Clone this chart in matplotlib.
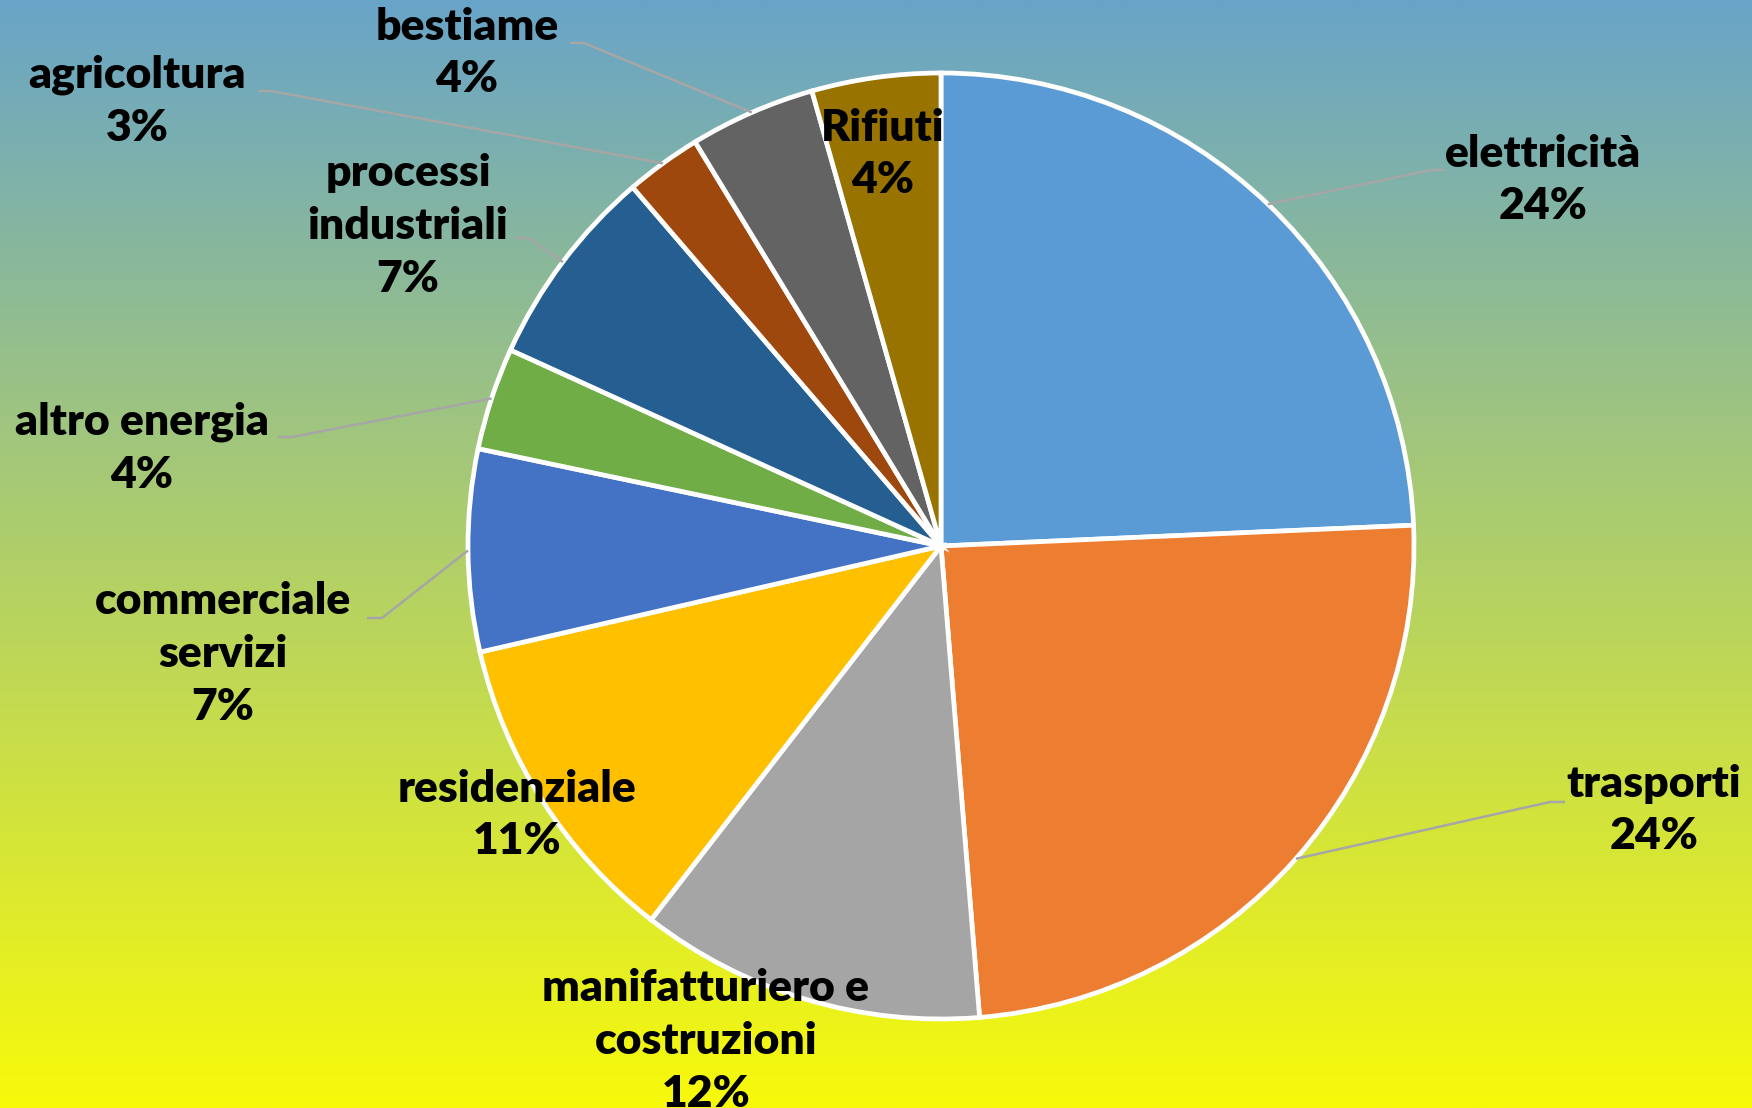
import numpy as np
import matplotlib.pyplot as plt

# emission shares by sector, clockwise from 12 o'clock
sectors = ['elettricità', 'trasporti', 'manifatturiero e\ncostruzioni', 'residenziale',
           'commerciale\nservizi', 'altro energia', 'processi\nindustriali',
           'agricoltura', 'bestiame', 'Rifiuti']
shares = [24.3, 24.4, 11.8, 10.9, 6.9, 3.5, 6.9, 2.6, 4.3, 4.4]
colors = ['#5B9BD5', '#ED7D31', '#A5A5A5', '#FFC000', '#4472C4', '#70AD47',
          '#255E91', '#9E480E', '#636363', '#997300']

W, H = 1752, 1108
CX, CY, R = 941, 546, 473   # pie centre/radius in pixels (top-down)

# label block centres (top-down pixels) and leader elbows (bend_x, bend_y, end_x)
label_pos = [(1543, 180), (1654, 810), (706, 1041), (517, 815), (223, 654),
             (142, 448), (408, 226), (137, 101), (467, 53), (883, 154)]
leaders = [(1431, 170, 1445), (1550, 802, 1565), None, None, (382, 618, 367),
           (292, 437, 278), (529, 238, 515), (271, 91, 258), (584, 43, 570), None]


def fy(y):
    return H - y


fig = plt.figure(figsize=(W / 100, H / 100), dpi=100)
ax = fig.add_axes([0, 0, 1, 1])

# background gradient, blue at top to yellow at bottom
top = np.array([104, 164, 200]) / 255
bot = np.array([248, 250, 10]) / 255
t = np.linspace(0, 1, 512)[:, None]
grad = (top * (1 - t) + bot * t)[:, None, :]
ax.imshow(grad, extent=[0, W, 0, H], aspect='auto', zorder=0)

wedges, _ = ax.pie(shares, colors=colors, startangle=90, counterclock=False,
                   radius=R, center=(CX, fy(CY)),
                   wedgeprops=dict(edgecolor='white', linewidth=3.4))
for w in wedges:
    w.set_zorder(2)

total = sum(shares)
for w, name, v, pos, ld in zip(wedges, sectors, shares, label_pos, leaders):
    pct = round(v / total * 100)
    ax.text(pos[0], fy(pos[1]), '%s\n%d%%' % (name, pct), ha='center', va='center',
            fontsize=32, fontweight='heavy', family=['Lato', 'DejaVu Sans'],
            color='black', linespacing=1.38, zorder=4)
    if ld is not None:
        mid = np.deg2rad((w.theta1 + w.theta2) / 2)
        sx = CX + R * np.cos(mid)
        sy = fy(CY) + R * np.sin(mid)
        ax.plot([sx, ld[0], ld[2]], [sy, fy(ld[1]), fy(ld[1])],
                color='#A6A6A6', lw=1.8, zorder=3, solid_capstyle='butt')

ax.set_xlim(0, W)
ax.set_ylim(0, H)
ax.set_aspect('auto')
ax.axis('off')

plt.savefig('out.png', dpi=100)
